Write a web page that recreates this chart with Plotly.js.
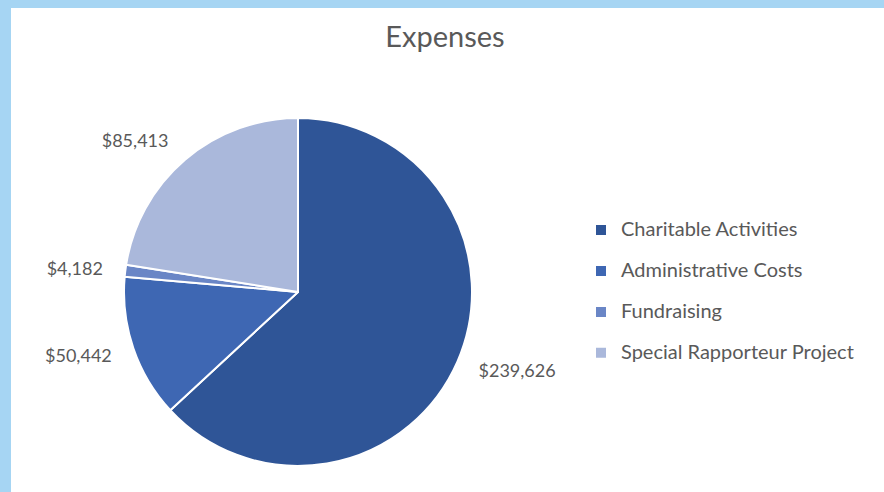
<!DOCTYPE html>
<html>
<head>
<meta charset="utf-8">
<script src="https://cdn.plot.ly/plotly-3.0.1.min.js"></script>
<style>html,body{margin:0;padding:0;background:#fff;}#chart{width:884px;height:492px;}</style>
</head>
<body>
<div id="chart"></div>
<script>
const categories = ["Charitable Activities", "Administrative Costs", "Fundraising", "Special Rapporteur Project"];
const amounts = [239626, 50442, 4182, 85413];
const sliceColors = ["#2f5597", "#3e67b3", "#6a86c6", "#aab8db"];
const chartTitle = "Expenses";

const textColor = "#595959";
const fontFamily = "Lato, 'Open Sans', sans-serif";
const legendLabels = categories.map(c => '<span style="font-size:20px">' + c + '</span><br> ');

// pie geometry (pixels in the 884x492 page)
const W = 884, H = 492;
const cx = 298, cy = 292, r = 174, labelR = 191;
const dom = (rad) => ({
  x: [(cx - rad) / W, (cx + rad) / W],
  y: [(H - cy - rad) / H, (H - cy + rad) / H]
});

const data = [
  // label ring: same slices, unfilled, only carries the value labels a little away from the pie
  {
    type: "pie",
    labels: legendLabels,
    values: amounts,
    sort: false,
    direction: "clockwise",
    rotation: 0,
    marker: {colors: categories.map(() => "rgba(0,0,0,0)"), line: {width: 0}},
    textposition: "outside",
    texttemplate: "$%{value:,}",
    outsidetextfont: {family: fontFamily, size: 18, color: textColor},
    hoverinfo: "skip",
    showlegend: false,
    domain: dom(labelR),
    automargin: false
  },
  {
    type: "pie",
    labels: legendLabels,
    values: amounts,
    sort: false,
    direction: "clockwise",
    rotation: 0,
    marker: {colors: sliceColors, line: {color: "#ffffff", width: 2}},
    textposition: "none",
    hovertemplate: "%{value:$,}<extra></extra>",
    domain: dom(r),
    automargin: false
  }
];

const layout = {
  width: W,
  height: H,
  margin: {l: 0, r: 0, t: 0, b: 0},
  paper_bgcolor: "#ffffff",
  font: {family: fontFamily, color: textColor},
  title: {
    text: chartTitle,
    font: {family: fontFamily, size: 29, color: textColor},
    x: 445/W, xanchor: "center",
    y: 1 - 37/H, yanchor: "middle"
  },
  showlegend: true,
  legend: {
    x: 581/W, xanchor: "left",
    y: 1 - 214/H, yanchor: "top",
    font: {family: fontFamily, size: 14.6, color: textColor},
    valign: "top",
    bgcolor: "rgba(0,0,0,0)"
  },
  shapes: [
    {type: "rect", xref: "paper", yref: "paper", x0: 0, x1: 11/W, y0: 0, y1: 1, fillcolor: "#a6d5f3", line: {width: 0}},
    {type: "rect", xref: "paper", yref: "paper", x0: 0, x1: 1, y0: 1 - 8/H, y1: 1, fillcolor: "#a6d5f3", line: {width: 0}}
  ]
};

Plotly.newPlot("chart", data, layout, {displayModeBar: false});
</script>
</body>
</html>
